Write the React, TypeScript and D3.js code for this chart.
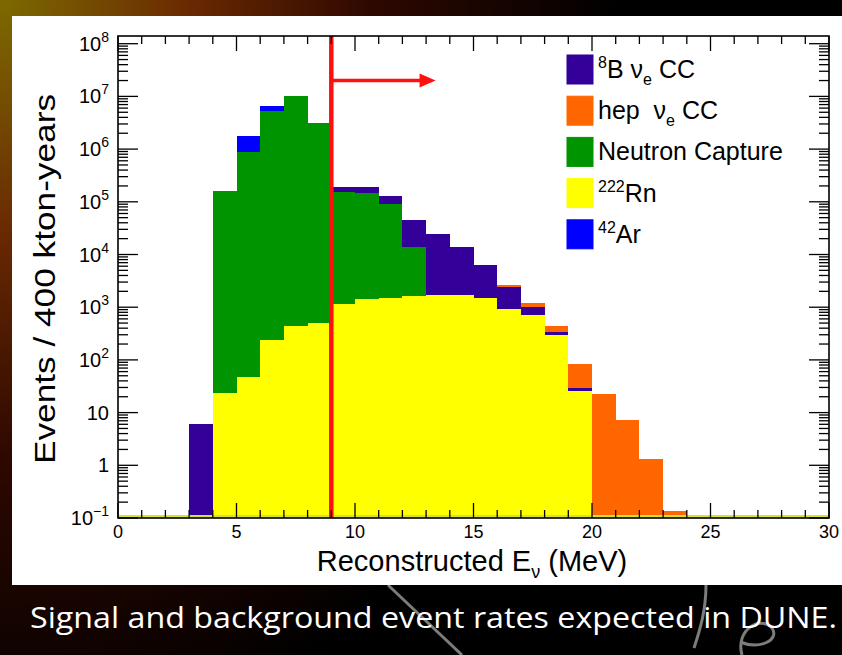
import React from "react";
import * as d3 from "d3";

// 1 MeV bins, 0..30 MeV; per-component counts (not cumulative), stacked bottom -> top
const binEdges = d3.range(0, 31);
const rn222 = [0, 0, 0, 0, 24, 48, 240, 440, 500, 1150, 1400, 1470, 1600, 1700, 1700, 1470, 930, 716, 300, 26, 0, 0, 0, 0, 0, 0, 0, 0, 0, 0];
const neutronCapture = [0, 0, 0, 0, 160000, 870000, 5300000, 10000000, 3100000, 154000, 148600, 90500, 12400, 0, 0, 0, 0, 0, 0, 0, 0, 0, 0, 0, 0, 0, 0, 0, 0, 0];
const ar42 = [0, 0, 0, 0, 0, 890000, 1200000, 0, 0, 0, 0, 0, 0, 0, 0, 0, 0, 0, 0, 0, 0, 0, 0, 0, 0, 0, 0, 0, 0, 0];
const b8 = [0, 0, 0, 6, 0, 0, 0, 0, 0, 35000, 40000, 38000, 32000, 23300, 12300, 4930, 1470, 314, 40, 3.8, 0, 0, 0, 0, 0, 0, 0, 0, 0, 0];
const hep = [0, 0, 0, 0, 0, 0, 0, 0, 0, 0, 0, 0, 0, 0, 0, 0, 200, 150, 93, 55, 23, 7.2, 1.3, 0.135, 0, 0, 0, 0, 0, 0];

const seriesKeys = ["rn", "nc", "ar", "b8", "hep"];
const seriesColors: Record<string, string> = {
  rn: "#ffff00",
  nc: "#009400",
  ar: "#0000ff",
  b8: "#330099",
  hep: "#ff6600",
};

const legendItems = [
  { key: "b8", sup: "8", main: "B ν", sub: "e", tail: " CC" },
  { key: "hep", sup: "", main: "hep\u00a0\u00a0ν", sub: "e", tail: " CC" },
  { key: "nc", sup: "", main: "Neutron Capture", sub: "", tail: "" },
  { key: "rn", sup: "222", main: "Rn", sub: "", tail: "" },
  { key: "ar", sup: "42", main: "Ar", sub: "", tail: "" },
];

const xTicks = [0, 5, 10, 15, 20, 25, 30];
const yDecades = [-1, 0, 1, 2, 3, 4, 5, 6, 7, 8];
const cutEnergy = 9;
const arrowEnd = 13.4;
const arrowLevel = 2e7;

const W = 842;
const H = 655;
const plot = { left: 118, right: 829, top: 36, bottom: 518 };

export default function App() {
  const x = d3.scaleLinear().domain([0, 30]).range([plot.left, plot.right]);
  const y = d3.scaleLog().domain([0.1, 1.4e8]).range([plot.bottom, plot.top]).clamp(true);

  const rows = binEdges.slice(0, 30).map((lo, i) => ({
    lo,
    hi: binEdges[i + 1],
    rn: rn222[i],
    nc: neutronCapture[i],
    ar: ar42[i],
    b8: b8[i],
    hep: hep[i],
  }));
  const stacked = d3.stack<any>().keys(seriesKeys)(rows);

  const minorY: number[] = [];
  yDecades.slice(0, -1).forEach((e) => {
    for (let k = 2; k <= 9; k++) minorY.push(k * Math.pow(10, e));
  });
  const xMinor = d3.range(0, 31).filter((v) => v % 5 !== 0);

  const font = "'Liberation Sans', Arial, Helvetica, sans-serif";

  const yLabel = (e: number) => {
    if (e === 0) return <tspan>1</tspan>;
    if (e === 1) return <tspan>10</tspan>;
    return (
      <>
        <tspan>10</tspan>
        <tspan dy={-9} fontSize={14}>{e < 0 ? "\u2212" + Math.abs(e) : e}</tspan>
      </>
    );
  };

  return (
    <svg width={W} height={H} style={{ position: "absolute", left: 0, top: 0 }}>
      <defs>
        <radialGradient id="bg" cx="0" cy="0" r="1" gradientUnits="userSpaceOnUse"
          gradientTransform="translate(0,0) scale(620,760)">
          <stop offset="0" stopColor="#7d6a00" />
          <stop offset="0.3" stopColor="#6a2a02" />
          <stop offset="0.6" stopColor="#2e0800" />
          <stop offset="1" stopColor="#000000" />
        </radialGradient>
      </defs>
      <rect x={0} y={0} width={W} height={H} fill="url(#bg)" />

      {/* watermark strokes behind the caption */}
      <g stroke="#8a8a8a" strokeWidth={3} fill="none" opacity={0.9}>
        <path d="M388,585 L462,655" />
        <path d="M706,585 C706,610 700,630 694,648" />
        <path d="M742,655 C735,630 760,615 772,628 C780,640 760,650 740,642" />
      </g>

      {/* white figure panel */}
      <rect x={12} y={16} width={W - 12} height={569} fill="#ffffff" />

      {/* stacked histogram */}
      <g shapeRendering="crispEdges">
        {stacked.map((layer) =>
          layer.map((d, i) => {
            const v = d[1] - d[0];
            if (!(v > 0)) return null;
            const y0 = y(Math.max(d[0], 0.1));
            const y1 = y(d[1]);
            return (
              <rect
                key={layer.key + i}
                x={x(rows[i].lo)}
                width={x(rows[i].hi) - x(rows[i].lo)}
                y={y1}
                height={Math.max(0, y0 - y1)}
                fill={seriesColors[layer.key]}
              />
            );
          })
        )}
      </g>
      {/* empty-bin fill outline at the axis minimum */}
      <line x1={x(0)} x2={x(30)} y1={y(0.1) - 1.5} y2={y(0.1) - 1.5} stroke="#d8e03a" strokeWidth={3} />

      {/* cut line and arrow */}
      <line x1={x(cutEnergy)} x2={x(cutEnergy)} y1={plot.top} y2={plot.bottom} stroke="#ff1010" strokeWidth={4.5} />
      <line x1={x(cutEnergy)} x2={x(arrowEnd) - 12} y1={y(arrowLevel)} y2={y(arrowLevel)} stroke="#ff1010" strokeWidth={3.5} />
      <path
        d={`M${x(arrowEnd)},${y(arrowLevel)} L${x(arrowEnd) - 16},${y(arrowLevel) - 7} L${x(arrowEnd) - 16},${y(arrowLevel) + 7} Z`}
        fill="#ff1010"
      />

      {/* frame and ticks */}
      <g stroke="#000" strokeWidth={1.3}>
        {yDecades.map((e) => {
          const yy = y(Math.pow(10, e));
          return (
            <g key={"yd" + e}>
              <line x1={plot.left} x2={plot.left + 20} y1={yy} y2={yy} />
              <line x1={plot.right} x2={plot.right - 20} y1={yy} y2={yy} />
            </g>
          );
        })}
        {minorY.map((v, i) => {
          const yy = y(v);
          return (
            <g key={"ym" + i}>
              <line x1={plot.left} x2={plot.left + 10} y1={yy} y2={yy} />
              <line x1={plot.right} x2={plot.right - 10} y1={yy} y2={yy} />
            </g>
          );
        })}
        {xTicks.map((t) => (
          <g key={"xt" + t}>
            <line x1={x(t)} x2={x(t)} y1={plot.bottom} y2={plot.bottom - 15} />
            <line x1={x(t)} x2={x(t)} y1={plot.top} y2={plot.top + 15} />
          </g>
        ))}
        {xMinor.map((t) => (
          <g key={"xm" + t}>
            <line x1={x(t)} x2={x(t)} y1={plot.bottom} y2={plot.bottom - 8} />
            <line x1={x(t)} x2={x(t)} y1={plot.top} y2={plot.top + 8} />
          </g>
        ))}
      </g>
      <rect
        x={plot.left}
        y={plot.top}
        width={plot.right - plot.left}
        height={plot.bottom - plot.top}
        fill="none"
        stroke="#000"
        strokeWidth={1.6}
      />

      {/* axis labels */}
      <g fontFamily={font} fill="#000">
        {yDecades.map((e) => (
          <text key={"yl" + e} x={109} y={y(Math.pow(10, e)) + 7} fontSize={20} textAnchor="end">
            {yLabel(e)}
          </text>
        ))}
        {xTicks.map((t) => (
          <text key={"xl" + t} x={x(t)} y={538} fontSize={18} textAnchor="middle">
            {t}
          </text>
        ))}
        <text x={472} y={571} fontSize={29} textAnchor="middle">
          Reconstructed E
          <tspan dy={7} fontSize={18}>ν</tspan>
          <tspan dy={-7}> (MeV)</tspan>
        </text>
        <text
          transform={`translate(55,${(plot.top + plot.bottom) / 2 + 2}) rotate(-90)`}
          fontSize={30}
          textAnchor="middle"
          textLength={370}
          lengthAdjust="spacingAndGlyphs"
        >
          Events / 400 kton-years
        </text>
      </g>

      {/* legend */}
      <g fontFamily={font} fill="#000">
        {legendItems.map((it, i) => {
          const cy = 69 + i * 41.2;
          return (
            <g key={it.key}>
              <rect x={567} y={cy - 14} width={26} height={29} fill={seriesColors[it.key]} stroke={seriesColors[it.key]} />
              <text x={598} y={cy + 9} fontSize={25}>
                {it.sup && <tspan dy={-10} fontSize={16}>{it.sup}</tspan>}
                <tspan dy={it.sup ? 10 : 0}>{it.main}</tspan>
                {it.sub && <tspan dy={7} fontSize={16}>{it.sub}</tspan>}
                {it.tail && <tspan dy={it.sub ? -7 : 0}>{it.tail}</tspan>}
              </text>
            </g>
          );
        })}
      </g>

      {/* caption */}
      <text
        x={30}
        y={628}
        fill="#ffffff"
        fontFamily="'Open Sans', 'Noto Sans', sans-serif"
        fontSize={29}
        textLength={807}
        lengthAdjust="spacingAndGlyphs"
      >
        Signal and background event rates expected in DUNE.
      </text>
    </svg>
  );
}
